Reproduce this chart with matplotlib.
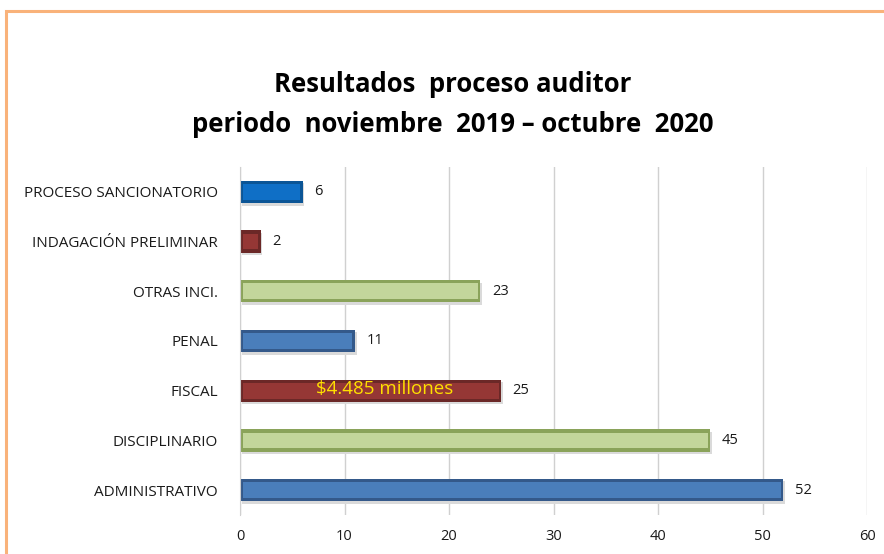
import matplotlib.pyplot as plt
from matplotlib.patches import Rectangle

categorias = ["ADMINISTRATIVO", "DISCIPLINARIO", "FISCAL", "PENAL",
              "OTRAS INCI.", "INDAGACIÓN PRELIMINAR", "PROCESO SANCIONATORIO"]
valores = [52, 45, 25, 11, 23, 2, 6]
colores = ["#4A7EBB", "#C3D69B", "#953735", "#4A7EBB", "#C3D69B", "#953735", "#0F6FC6"]
bordes = ["#34598A", "#8AA35A", "#6B2827", "#34598A", "#8AA35A", "#6B2827", "#0B5596"]
nota_fiscal = "$4.485 millones"

plt.rcParams['font.family'] = ['Open Sans', 'DejaVu Sans']

fig = plt.figure(figsize=(8.84, 5.54), dpi=100)
fig.patch.set_facecolor("white")

# marco naranja
fig.patches.append(Rectangle((6 / 884, -0.1), 1.2, (554 - 11) / 554 + 0.1,
                             transform=fig.transFigure, fill=False,
                             edgecolor="#F9B27A", linewidth=2.2, zorder=0))

ax = fig.add_axes([240 / 884, 39 / 554, 627 / 884, 348 / 554])
y = list(range(len(categorias)))
h = 0.45
# sombra
ax.barh([v - 0.05 for v in y], valores, height=h, left=0.15, color="#DADADA", zorder=1)
ax.barh(y, valores, height=h, color=bordes, zorder=2)
ax.barh(y, [v - 0.5 for v in valores], height=h * 0.7, left=0.25, color=colores, zorder=3)

for yi, v in zip(y, valores):
    ax.text(v + 1.1, yi, str(v), va="center", ha="left", fontsize=10.5, color="#1a1a1a")

ax.text(valores[2] / 2 + 1.3, 2.03, nota_fiscal, va="center", ha="center",
        fontsize=13.5, color="#FFE000", zorder=4)

ax.set_xlim(0, 60)
ax.set_ylim(-0.5, len(categorias) - 0.5)
ax.set_xticks(range(0, 61, 10))
ax.set_yticks(y)
ax.set_yticklabels(categorias, fontsize=11)
ax.tick_params(axis="both", length=0, colors="#1a1a1a")
ax.tick_params(axis="x", labelsize=10.5, pad=10)
ax.tick_params(axis="y", pad=16)
ax.grid(axis="x", color="#D0D0D0", linewidth=1)
ax.set_axisbelow(True)
for s in ["top", "right", "bottom"]:
    ax.spines[s].set_visible(False)
ax.spines["left"].set_color("#D0D0D0")

fig.text(453 / 884, 1 - 85 / 554, "Resultados  proceso auditor", ha="center", va="center",
         fontsize=18.5, fontweight="bold")
fig.text(453 / 884, 1 - 125 / 554, "periodo  noviembre  2019 – octubre  2020", ha="center",
         va="center", fontsize=18.5, fontweight="bold")

fig.savefig("out.png", dpi=100)
